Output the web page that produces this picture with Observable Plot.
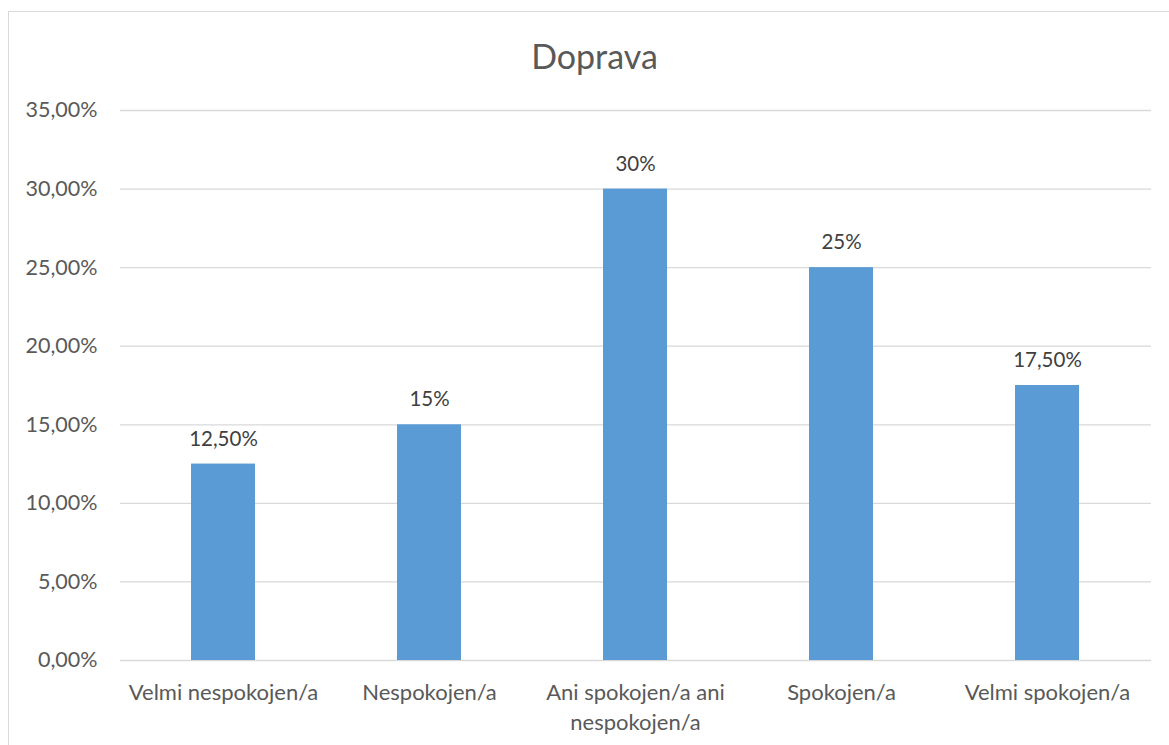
<!DOCTYPE html>
<html>
<head>
<meta charset="utf-8">
<script src="https://cdn.jsdelivr.net/npm/d3@7"></script>
<script src="https://cdn.jsdelivr.net/npm/@observablehq/plot@0.6"></script>
<style>
  html, body { margin: 0; padding: 0; background: #fff; overflow: hidden; }
  #wrap { position: relative; width: 1169px; height: 745px; font-family: Lato, sans-serif; }
  #border { position: absolute; left: 8px; top: 11px; width: 1200px; height: 800px; border: 1px solid #d9d9d9; box-sizing: border-box; }
  #title { position: absolute; left: 8px; width: 1173px; top: 35px; text-align: center; font-size: 34px; color: #595959; line-height: 42px; }
  #chart { position: absolute; left: 0; top: 0; }
</style>
</head>
<body>
<div id="wrap">
  <div id="border"></div>
  <div id="title">Doprava</div>
  <div id="chart"></div>
</div>
<script>
const categories = ["Velmi nespokojen/a", "Nespokojen/a", "Ani spokojen/a ani\nnespokojen/a", "Spokojen/a", "Velmi spokojen/a"];
const values = [0.125, 0.15, 0.30, 0.25, 0.175];
const valueLabels = ["12,50%", "15%", "30%", "25%", "17,50%"];
const yTicks = [0, 0.05, 0.10, 0.15, 0.20, 0.25, 0.30, 0.35];

const data = categories.map((c, i) => ({cat: c, value: values[i], label: valueLabels[i]}));
const fmtY = d => (d * 100).toFixed(2).replace(".", ",") + "%";

const plot = Plot.plot({
  width: 1169,
  height: 745,
  marginLeft: 120,
  marginRight: 18,
  marginTop: 110,
  marginBottom: 85,
  style: {fontFamily: "Lato, sans-serif", fontSize: "21px", color: "#595959", background: "transparent"},
  x: {domain: categories, paddingInner: 0.687, paddingOuter: 0.3435, align: 0.5, label: null},
  y: {domain: [0, 0.35], label: null},
  marks: [
    Plot.ruleY(yTicks, {stroke: "#d9d9d9", strokeWidth: 1.3}),
    Plot.barY(data, {x: "cat", y: "value", fill: "#5B9BD5"}),
    Plot.text(data, {x: "cat", y: "value", text: "label", dy: -25, fill: "#404040", fontSize: 20.5}),
    Plot.axisY({ticks: yTicks, tickFormat: fmtY, tickSize: 0, tickPadding: 23, fill: "#595959", fontSize: 21.5}),
    Plot.axisX({tickSize: 0, tickPadding: 19, fill: "#595959", fontSize: 22, lineHeight: 1.33})
  ]
});
document.getElementById("chart").appendChild(plot);
</script>
</body>
</html>
